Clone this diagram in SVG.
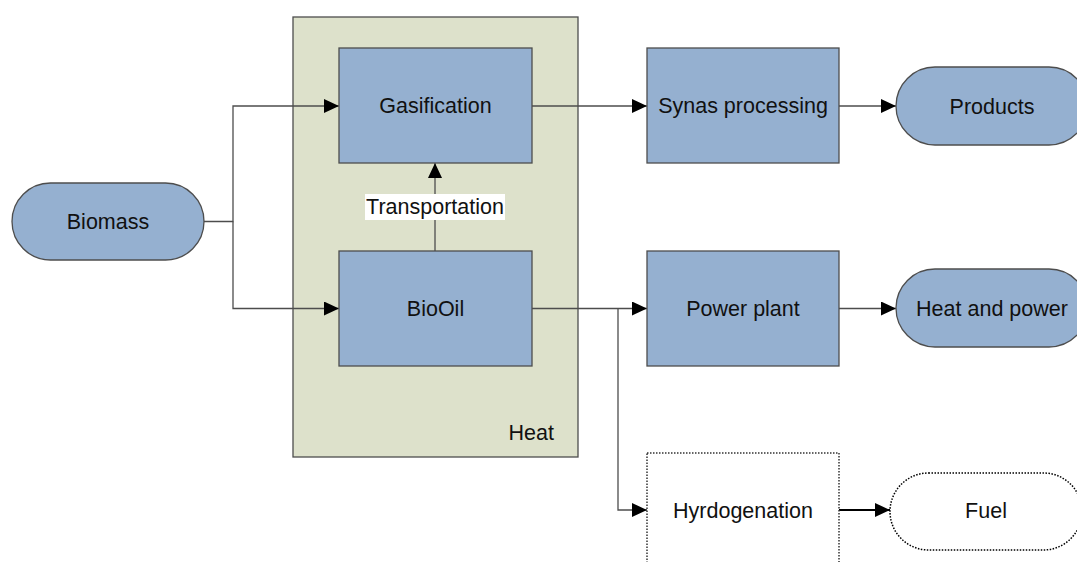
<svg xmlns="http://www.w3.org/2000/svg" width="1077" height="562" viewBox="0 0 1077 562">
<style>
text{font-family:"Liberation Sans",Arial,sans-serif;font-size:21.5px;fill:#111;text-anchor:middle}
.box{fill:#95b0d0;stroke:#4d4d4d;stroke-width:1.3}
.term{fill:#95b0d0;stroke:#4d4d4d;stroke-width:1.3}
.con{fill:none;stroke:#4d4d4d;stroke-width:1.3}
</style>
<defs>
<marker id="arr" markerWidth="16" markerHeight="14" refX="15" refY="7" orient="auto" markerUnits="userSpaceOnUse">
<path d="M0,0 L15,7 L0,14 z" fill="#000"/>
</marker>
</defs>
<rect width="1077" height="562" fill="#fff"/>
<g id="heat">
<rect x="293" y="17" width="285" height="440" fill="#dde1cb" stroke="#4d4d4d" stroke-width="1.3"/>
<text x="554" y="440" style="text-anchor:end">Heat</text>
</g>
<g id="connectors">
<path class="con" d="M204,221.5 H233 V106 H339" marker-end="url(#arr)"/>
<path class="con" d="M233,221.5 V308.5 H339" marker-end="url(#arr)"/>
<path class="con" d="M435,251 V163" marker-end="url(#arr)"/>
<path class="con" d="M532,106 H647" marker-end="url(#arr)"/>
<path class="con" d="M532,308.5 H647" marker-end="url(#arr)"/>
<path class="con" d="M618,308.5 V510 H647" marker-end="url(#arr)"/>
<path class="con" d="M839,106 H896" marker-end="url(#arr)"/>
<path class="con" d="M839,308.5 H896" marker-end="url(#arr)"/>
<path d="M839,510 H890" fill="none" stroke="#000" stroke-width="2" marker-end="url(#arr)"/>
<rect x="365" y="194" width="140" height="26" fill="#fff"/>
<text x="435" y="213.5">Transportation</text>
</g>
<g id="biomass">
<rect class="term" x="12" y="183" width="192" height="77" rx="38.5" ry="38.5"/>
<text x="108" y="229">Biomass</text>
</g>
<g id="gasification">
<rect class="box" x="339" y="48" width="193" height="115"/>
<text x="435.5" y="113">Gasification</text>
</g>
<g id="biooil">
<rect class="box" x="339" y="251" width="193" height="115"/>
<text x="435.5" y="316">BioOil</text>
</g>
<g id="synas">
<rect class="box" x="647" y="48" width="192" height="115"/>
<text x="743" y="113">Synas processing</text>
</g>
<g id="powerplant">
<rect class="box" x="647" y="251" width="192" height="115"/>
<text x="743" y="316">Power plant</text>
</g>
<g id="products">
<rect class="term" x="896" y="67" width="192" height="78" rx="39" ry="39"/>
<text x="992" y="113.5">Products</text>
</g>
<g id="heatpower">
<rect class="term" x="896" y="269" width="192" height="78" rx="39" ry="39"/>
<text x="992" y="315.5">Heat and power</text>
</g>
<g id="hydrogenation">
<rect x="647" y="453" width="192" height="130" fill="#fff" stroke="#333" stroke-width="1.5" stroke-dasharray="1.5,1.5"/>
<text x="743" y="517.5">Hyrdogenation</text>
</g>
<g id="fuel">
<rect x="890" y="473" width="192" height="77" rx="38.5" ry="38.5" fill="#fff" stroke="#000" stroke-width="1.5" stroke-dasharray="1.5,1.5"/>
<text x="986" y="517.5">Fuel</text>
</g>
</svg>
